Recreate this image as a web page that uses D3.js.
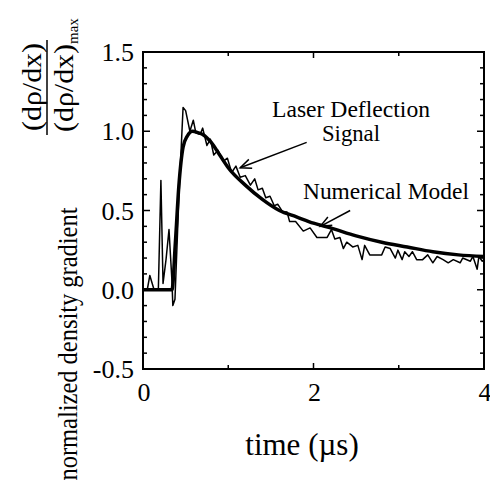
<!DOCTYPE html>
<html>
<head>
<meta charset="utf-8">
<script src="https://cdn.jsdelivr.net/npm/d3@7"></script>
<style>
  body { margin: 0; background: #fff; }
  svg text { font-family: 'Liberation Serif', Tinos, 'Times New Roman', Times, 'DejaVu Serif', serif; fill: #000; }
</style>
</head>
<body>
<div id="graph"></div>
<script>
// numerical model (thick curve)
var modelT = [0, 0.2, 0.34, 0.38, 0.42, 0.47, 0.52, 0.58, 0.65, 0.7, 0.8, 0.9, 1.0, 1.2, 1.4, 1.6, 1.8, 2.0, 2.2, 2.5, 2.8, 3.1, 3.4, 3.7, 4.0]
var modelV = [0, 0, 0, 0.3, 0.65, 0.9, 0.97, 1.0, 0.99, 0.98, 0.93, 0.85, 0.77, 0.66, 0.57, 0.50, 0.46, 0.42, 0.39, 0.34, 0.30, 0.27, 0.24, 0.22, 0.21]

// laser deflection signal (thin noisy line)
var signalT = [0, 0.05, 0.08, 0.13, 0.18, 0.21, 0.235, 0.27, 0.305, 0.34, 0.35, 0.375, 0.42, 0.47, 0.50, 0.55, 0.59, 0.62, 0.67, 0.70, 0.75, 0.79, 0.83, 0.88, 0.94, 0.99,
  1.04, 1.09, 1.14, 1.20, 1.26, 1.31, 1.35, 1.40, 1.44, 1.49, 1.54, 1.58, 1.64, 1.69, 1.72, 1.79, 1.88, 1.96, 2.04, 2.16, 2.21, 2.25, 2.31, 2.35, 2.39, 2.46, 2.52,
  2.57, 2.60, 2.66, 2.80, 2.84, 2.90, 2.96, 2.99, 3.04, 3.07, 3.12, 3.16, 3.21, 3.28, 3.34, 3.40, 3.45, 3.52, 3.58, 3.64, 3.72, 3.75, 3.84, 3.87, 3.92, 3.94, 3.98, 4.0]
var signalV = [0, 0, 0.09, 0, 0, 0.69, 0.04, 0.19, 0.38, 0.05, -0.1, -0.06, 0.57, 1.15, 1.13, 1.0, 1.07, 0.99, 0.98, 1.02, 0.91, 0.95, 0.85, 0.88, 0.81, 0.83,
  0.74, 0.78, 0.71, 0.72, 0.66, 0.70, 0.63, 0.64, 0.58, 0.59, 0.53, 0.54, 0.49, 0.49, 0.43, 0.43, 0.37, 0.39, 0.33, 0.33, 0.38, 0.32, 0.33, 0.26, 0.30, 0.27, 0.28,
  0.19, 0.28, 0.22, 0.22, 0.27, 0.26, 0.20, 0.25, 0.19, 0.24, 0.21, 0.24, 0.19, 0.19, 0.22, 0.17, 0.21, 0.19, 0.17, 0.19, 0.17, 0.20, 0.18, 0.21, 0.13, 0.21, 0.18, 0.19]

var xTickLabels = ['0', '2', '4']
var xTickValues = [0, 2, 4]
var yTickLabels = ['-0.5', '0.0', '0.5', '1.0', '1.5']
var yTickValues = [-0.5, 0, 0.5, 1.0, 1.5]

// annotations: text anchor and arrow (from -> to), data units
var notes = [
  {lines: ['Laser Deflection', 'Signal'], len: [158, 58], t: 2.44, v: [1.09, 0.94], from: [1.92, 0.93], to: [1.14, 0.77]},
  {lines: ['Numerical Model'], len: [166], t: 2.85, v: [0.57], from: [2.43, 0.50], to: [2.08, 0.40]}
]

var serif = "'Liberation Serif', Tinos, 'Times New Roman', Times, 'DejaVu Serif', serif"
var width = 490, height = 486
var x = d3.scaleLinear().domain([0, 4]).range([143, 484])
var y = d3.scaleLinear().domain([-0.5, 1.5]).range([369, 52])

var svg = d3.select('#graph').append('svg')
  .attr('width', width).attr('height', height)

// frame
svg.append('rect')
  .attr('x', x(0)).attr('y', y(1.5))
  .attr('width', x(4) - x(0)).attr('height', y(-0.5) - y(1.5))
  .attr('fill', 'none').attr('stroke', '#000').attr('stroke-width', 2)

// ticks
var yMinor = d3.range(-0.5, 1.5001, 0.1).map(d => Math.round(d * 10) / 10)
yMinor.forEach(function(d) {
  var major = Math.abs(d * 2 - Math.round(d * 2)) < 1e-6
  var len = major ? 7 : 4
  svg.append('line').attr('x1', x(0)).attr('x2', x(0) + len).attr('y1', y(d)).attr('y2', y(d))
    .attr('stroke', '#000').attr('stroke-width', 1.5)
  svg.append('line').attr('x1', x(4)).attr('x2', x(4) - len).attr('y1', y(d)).attr('y2', y(d))
    .attr('stroke', '#000').attr('stroke-width', 1.5)
})
;[1, 2, 3].forEach(function(d) {
  var len = d == 2 ? 6 : 4
  svg.append('line').attr('x1', x(d)).attr('x2', x(d)).attr('y1', y(-0.5)).attr('y2', y(-0.5) - len)
    .attr('stroke', '#000').attr('stroke-width', 1.5)
  svg.append('line').attr('x1', x(d)).attr('x2', x(d)).attr('y1', y(1.5)).attr('y2', y(1.5) + len)
    .attr('stroke', '#000').attr('stroke-width', 1.5)
})

// tick labels
svg.selectAll('.ylab').data(yTickValues).enter().append('text')
  .attr('class', 'ylab')
  .attr('x', x(0) - 9).attr('y', d => y(d))
  .attr('dy', '0.35em')
  .attr('text-anchor', 'end')
  .style('font-family', serif)
  .attr('font-size', 26)
  .text((d, i) => yTickLabels[i])

svg.selectAll('.xlab').data(xTickValues).enter().append('text')
  .attr('class', 'xlab')
  .attr('x', d => x(d) + 1).attr('y', y(-0.5) + 32)
  .attr('text-anchor', 'middle')
  .style('font-family', serif)
  .attr('font-size', 26)
  .text((d, i) => xTickLabels[i])

// axis titles
svg.append('text')
  .attr('x', 302).attr('y', 455)
  .attr('text-anchor', 'middle')
  .style('font-family', serif)
  .attr('font-size', 31)
  .text('time (\u00b5s)')

svg.append('text')
  .attr('transform', 'translate(77,344) rotate(-90)')
  .attr('text-anchor', 'middle')
  .style('font-family', serif)
  .attr('font-size', 28)
  .attr('textLength', 273)
  .attr('lengthAdjust', 'spacingAndGlyphs')
  .text('normalized density gradient')

// fraction (dρ/dx)/(dρ/dx)max
var frac = svg.append('g').attr('transform', 'rotate(-90)')
frac.append('text')
  .attr('x', -87).attr('y', 41)
  .attr('text-anchor', 'middle')
  .style('font-family', serif)
  .attr('font-size', 28)
  .attr('textLength', 88)
  .attr('lengthAdjust', 'spacingAndGlyphs')
  .text('(d\u03c1/dx)')
frac.append('line')
  .attr('x1', -135).attr('x2', -40).attr('y1', 47).attr('y2', 47)
  .attr('stroke', '#000').attr('stroke-width', 1.5)
var den = frac.append('text')
  .attr('x', -132).attr('y', 73)
  .style('font-family', serif)
  .attr('font-size', 28)
den.append('tspan').attr('textLength', 88).attr('lengthAdjust', 'spacingAndGlyphs').text('(d\u03c1/dx)')
den.append('tspan').attr('dy', 5).attr('font-size', 15).text('max')

// data lines
var line = d3.line().x(d => x(d[0])).y(d => y(d[1]))

svg.append('path')
  .datum(signalT.map((t, i) => [t, signalV[i]]))
  .attr('d', line)
  .attr('fill', 'none').attr('stroke', '#000')
  .attr('stroke-width', 1.5).attr('stroke-linejoin', 'round')

svg.append('path')
  .datum(modelT.map((t, i) => [t, modelV[i]]))
  .attr('d', d3.line().curve(d3.curveMonotoneX).x(d => x(d[0])).y(d => y(d[1])))
  .attr('fill', 'none').attr('stroke', '#000')
  .attr('stroke-width', 3.5).attr('stroke-linejoin', 'round')

// annotations
notes.forEach(function(n) {
  n.lines.forEach(function(s, i) {
    svg.append('text')
      .attr('x', x(n.t)).attr('y', y(n.v[i]))
      .attr('text-anchor', 'middle')
      .style('font-family', serif)
      .attr('font-size', 24)
      .attr('textLength', n.len[i])
      .attr('lengthAdjust', 'spacingAndGlyphs')
      .text(s)
  })
  var x1 = x(n.from[0]), y1 = y(n.from[1]), x2 = x(n.to[0]), y2 = y(n.to[1])
  var ang = Math.atan2(y2 - y1, x2 - x1), h = 12
  svg.append('line').attr('x1', x1).attr('y1', y1).attr('x2', x2).attr('y2', y2)
    .attr('stroke', '#000').attr('stroke-width', 1.5)
  svg.append('path')
    .attr('d', 'M' + (x2 - h * Math.cos(ang - 0.4)) + ',' + (y2 - h * Math.sin(ang - 0.4)) +
      'L' + x2 + ',' + y2 +
      'L' + (x2 - h * Math.cos(ang + 0.4)) + ',' + (y2 - h * Math.sin(ang + 0.4)))
    .attr('fill', 'none').attr('stroke', '#000').attr('stroke-width', 1.5)
})
</script>
</body>
</html>
